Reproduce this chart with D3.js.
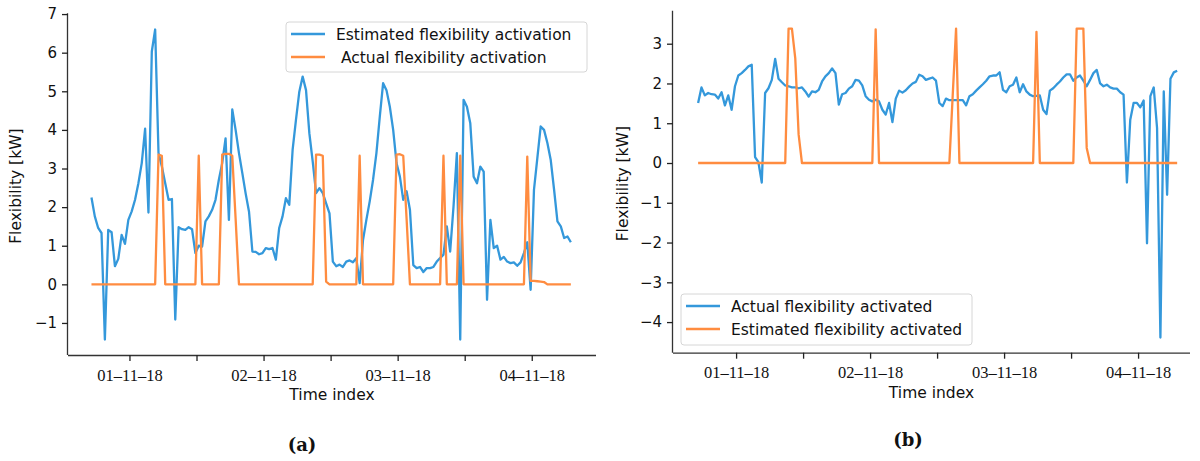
<!DOCTYPE html>
<html>
<head>
<meta charset="utf-8">
<script src="https://cdn.jsdelivr.net/npm/d3@7"></script>
<style>
  html, body { margin: 0; padding: 0; background: #fff; }
  svg { display: block; }
  text { white-space: pre; }
</style>
</head>
<body>
<svg id="chart" width="1200" height="461"></svg>
<script>
// ---------------- DATA ----------------
// Samples every 36 minutes, from 31-10-18 17:12 to 04-11-18 07:00 (144 points)
const sampleStart = "2018-10-31T17:12:00";
const sampleStepMinutes = 36;

// Panel (a)
const estimatedActivationA = [
  2.25, 1.76, 1.46, 1.33, -1.43, 1.41, 1.35, 0.47, 0.66, 1.28,
  1.05, 1.67, 1.89, 2.19, 2.62, 3.14, 4.03, 1.86, 6.03, 6.60,
  3.40, 3.05, 2.62, 2.19, 2.21, -0.91, 1.48, 1.43, 1.41, 1.48,
  1.43, 0.81, 1.00, 0.98, 1.63, 1.76, 1.93, 2.19, 2.71, 3.14,
  3.78, 1.67, 4.53, 4.00, 3.40, 2.88, 2.35, 1.88, 0.85, 0.84,
  0.78, 0.81, 0.94, 0.91, 0.94, 0.64, 1.46, 1.76, 2.23, 2.06,
  3.48, 4.26, 4.99, 5.38, 5.03, 3.91, 3.18, 2.36, 2.49, 2.36,
  2.10, 1.84, 0.59, 0.47, 0.51, 0.45, 0.59, 0.62, 0.57, 0.68,
  0.03, 1.15, 1.67, 2.15, 2.71, 3.40, 4.34, 5.21, 5.03, 4.60,
  4.00, 3.14, 2.79, 2.19, 2.41, 1.93, 0.50, 0.42, 0.45, 0.32,
  0.42, 0.42, 0.45, 0.59, 0.68, 0.77, 1.50, 0.85, 2.02, 3.40,
  -1.43, 4.78, 4.60, 4.17, 2.79, 2.62, 3.05, 2.92, -0.40, 1.67,
  0.94, 1.00, 0.64, 0.71, 0.59, 0.55, 0.57, 0.48, 0.57, 0.81,
  1.09, -0.14, 2.45, 3.27, 4.09, 4.00, 3.66, 3.22, 2.45, 1.63,
  1.50, 1.20, 1.24, 1.09
];
const actualActivationA = [
  0, 0, 0, 0, 0, 0, 0, 0, 0, 0,
  0, 0, 0, 0, 0, 0, 0, 0, 0, 0,
  3.36, 3.33, 0, 0, 0, 0, 0, 0, 0, 0,
  0, 0, 3.33, 0, 0, 0, 0, 0, 0, 3.36,
  3.38, 3.38, 3.33, 1.70, 0, 0, 0, 0, 0, 0,
  0, 0, 0, 0, 0, 0, 0, 0, 0, 0,
  0, 0, 0, 0, 0, 0, 0, 3.36, 3.36, 3.33,
  0.07, 0, 0, 0, 0, 0, 0, 0, 0, 0,
  3.33, 0, 0, 0, 0, 0, 0, 0, 0, 0,
  0, 3.36, 3.37, 3.33, 1.70, 0, 0, 0, 0, 0,
  0, 0, 0, 0, 0, 3.33, 0, 0, 0, 0,
  3.33, 0, 0, 0, 0, 0, 0, 0, 0, 0,
  0, 0, 0, 0, 0, 0, 0, 0, 0, 0,
  3.31, 0.09, 0.09, 0.08, 0.07, 0.06, 0, 0, 0, 0,
  0, 0, 0, 0
];

// Panel (b)
const actualActivatedB = [
  1.51, 1.90, 1.70, 1.76, 1.73, 1.72, 1.62, 1.78, 1.45, 1.70,
  1.34, 1.93, 2.20, 2.26, 2.34, 2.43, 2.47, 0.15, 0.02, -0.49,
  1.76, 1.88, 2.09, 2.62, 2.12, 2.03, 1.95, 1.93, 1.90, 1.90,
  1.88, 1.90, 1.80, 1.67, 1.80, 1.78, 1.84, 2.05, 2.18, 2.26,
  2.38, 2.26, 1.47, 1.73, 1.76, 1.87, 1.93, 2.09, 2.07, 1.95,
  1.68, 1.59, 1.55, 1.59, 1.55, 1.34, 1.22, 1.51, 1.03, 1.62,
  1.82, 1.77, 1.83, 1.92, 2.00, 2.04, 2.22, 2.18, 2.09, 2.12,
  2.15, 2.07, 1.51, 1.43, 1.62, 1.58, 1.58, 1.58, 1.58, 1.58,
  1.45, 1.68, 1.73, 1.82, 1.90, 1.98, 2.07, 2.18, 2.20, 2.20,
  2.28, 1.84, 1.78, 1.93, 1.97, 2.15, 1.78, 1.98, 1.80, 1.72,
  1.68, 1.69, 1.70, 1.34, 1.23, 1.82, 1.88, 1.97, 2.05, 2.15,
  2.23, 2.23, 2.07, 2.15, 2.20, 2.07, 1.93, 2.09, 2.26, 2.34,
  2.00, 1.93, 1.97, 1.90, 1.87, 1.87, 1.78, 1.72, -0.49, 1.09,
  1.51, 1.51, 1.40, 1.57, -2.02, 1.68, 1.90, 0.88, -4.39, 1.80,
  -0.80, 2.12, 2.28, 2.32
];
const estimatedActivatedB = [
  0, 0, 0, 0, 0, 0, 0, 0, 0, 0,
  0, 0, 0, 0, 0, 0, 0, 0, 0, 0,
  0, 0, 0, 0, 0, 0, 0, 3.38, 3.38, 2.63,
  0.72, 0, 0, 0, 0, 0, 0, 0, 0, 0,
  0, 0, 0, 0, 0, 0, 0, 0, 0, 0,
  0, 0, 0, 3.36, 0, 0, 0, 0, 0, 0,
  0, 0, 0, 0, 0, 0, 0, 0, 0, 0,
  0, 0, 0, 0, 0, 0, 1.70, 3.38, 0, 0,
  0, 0, 0, 0, 0, 0, 0, 0, 0, 0,
  0, 0, 0, 0, 0, 0, 0, 0, 0, 0,
  0, 3.30, 0, 0, 0, 0, 0, 0, 0, 0,
  0, 0, 0, 3.38, 3.38, 3.38, 0.38, 0, 0, 0,
  0, 0, 0, 0, 0, 0, 0, 0, 0, 0,
  0, 0, 0, 0, 0, 0, 0, 0, 0, 0,
  0, 0, 0, 0
];

const yTicksA = [-1, 0, 1, 2, 3, 4, 5, 6, 7];
const yTicksB = [-4, -3, -2, -1, 0, 1, 2, 3];
const legendA = ["Estimated flexibility activation", " Actual flexibility activation"];
const legendB = ["Actual flexibility activated", "Estimated flexibility activated"];
const yLabel = "Flexibility [kW]";
const xLabel = "Time index";
const captions = ["(a)", "(b)"];

// ---------------- RENDER ----------------
const BLUE = "#3498db";
const ORANGE = "#ff8c40";
const svg = d3.select("#chart");

const t0 = new Date(sampleStart);
const times = estimatedActivationA.map((_, i) => d3.timeMinute.offset(t0, i * sampleStepMinutes));
const dayZero = new Date("2018-11-01T00:00:00");
const hrs = h => d3.timeMinute.offset(dayZero, Math.round(h * 60));
const fmt = d3.timeFormat("%d\u2013%m\u2013%y");

function panel(cfg) {
  const x = d3.scaleTime().domain([hrs(cfg.xDom[0]), hrs(cfg.xDom[1])]).range([cfg.left, cfg.right]);
  const y = d3.scaleLinear().domain(cfg.yDom).range([cfg.bottom, cfg.top]);
  const g = svg.append("g");

  // x axis
  const xAxis = d3.axisBottom(x)
    .ticks(d3.timeHour.every(12))
    .tickSize(6)
    .tickPadding(4)
    .tickFormat(d => d.getHours() === 0 ? fmt(d) : "");
  const gx = g.append("g").attr("transform", `translate(0,${cfg.bottom})`).call(xAxis);
  gx.select(".domain").attr("stroke", "#333").attr("stroke-width", 1.3).attr("d", `M${cfg.left},0.5H${cfg.right}`);
  gx.selectAll(".tick line").attr("stroke", "#222").attr("stroke-width", 1.3);
  gx.selectAll(".tick text").attr("font-family", "'Liberation Serif', 'Times New Roman', serif")
    .attr("font-size", 16.5).attr("fill", "#111").attr("dy", "0.95em");

  // y axis
  const yAxis = d3.axisLeft(y).tickValues(cfg.yTicks).tickSize(6).tickPadding(5).tickFormat(d3.format("d"));
  const gy = g.append("g").attr("transform", `translate(${cfg.left},0)`).call(yAxis);
  gy.select(".domain").attr("stroke", "#333").attr("stroke-width", 1.3).attr("d", `M-0.5,${cfg.top}V${cfg.bottom}`);
  gy.selectAll(".tick line").attr("stroke", "#222").attr("stroke-width", 1.3);
  gy.selectAll(".tick text").attr("font-family", "'DejaVu Sans', sans-serif").attr("font-size", 15).attr("fill", "#111");

  // lines
  const line = d3.line().x((d, i) => x(times[i])).y(d => y(d));
  cfg.series.forEach(s => {
    g.append("path").datum(s.values)
      .attr("fill", "none").attr("stroke", s.color).attr("stroke-width", 2.3)
      .attr("stroke-linejoin", "round").attr("d", line);
  });

  // axis labels
  g.append("text").attr("x", (cfg.left + cfg.right) / 2).attr("y", cfg.bottom + 45)
    .attr("text-anchor", "middle").attr("font-family", "'DejaVu Sans', sans-serif").attr("font-size", 15.5)
    .attr("fill", "#111").text(xLabel);
  g.append("text").attr("transform", `translate(${cfg.ylabX},${(cfg.top + cfg.bottom) / 2 + 2}) rotate(-90)`)
    .attr("text-anchor", "middle").attr("font-family", "'DejaVu Sans', sans-serif").attr("font-size", 15.5)
    .attr("fill", "#111").text(yLabel);

  // legend
  const L = cfg.legend;
  g.append("rect").attr("x", L.x).attr("y", L.y).attr("width", L.w).attr("height", L.h)
    .attr("rx", 3).attr("fill", "#fff").attr("fill-opacity", 0.85).attr("stroke", "#d6d6d6").attr("stroke-width", 1);
  cfg.series.forEach((s, k) => {
    const yy = L.y + 12 + k * 23;
    g.append("line").attr("x1", L.x + 5).attr("x2", L.x + 39).attr("y1", yy).attr("y2", yy)
      .attr("stroke", s.color).attr("stroke-width", 2.3);
    g.append("text").attr("x", L.x + 50).attr("y", yy).attr("dy", "0.36em")
      .attr("font-family", "'DejaVu Sans', sans-serif").attr("font-size", 15.5).attr("fill", "#111")
      .text(s.name);
  });

  // caption
  svg.append("text").attr("x", cfg.cap[0]).attr("y", cfg.cap[1]).attr("text-anchor", "middle")
    .attr("font-family", "'DejaVu Serif', serif").attr("font-weight", "bold").attr("font-size", 18)
    .attr("fill", "#111").text(cfg.caption);
}

panel({
  left: 68, right: 596, top: 13.3, bottom: 355,
  xDom: [-11.0, 83.5], yDom: [-1.83, 7.02], yTicks: yTicksA,
  series: [
    { name: legendA[0], values: estimatedActivationA, color: BLUE },
    { name: legendA[1], values: actualActivationA, color: ORANGE }
  ],
  legend: { x: 286, y: 22, w: 301, h: 50 },
  ylabX: 21, cap: [302, 451], caption: captions[0]
});

panel({
  left: 673, right: 1190, top: 10.7, bottom: 352.7,
  xDom: [-11.3, 81.3], yDom: [-4.77, 3.83], yTicks: yTicksB,
  series: [
    { name: legendB[0], values: actualActivatedB, color: BLUE },
    { name: legendB[1], values: estimatedActivatedB, color: ORANGE }
  ],
  legend: { x: 681, y: 294, w: 291, h: 51 },
  ylabX: 628, cap: [908, 446], caption: captions[1]
});
</script>
</body>
</html>
